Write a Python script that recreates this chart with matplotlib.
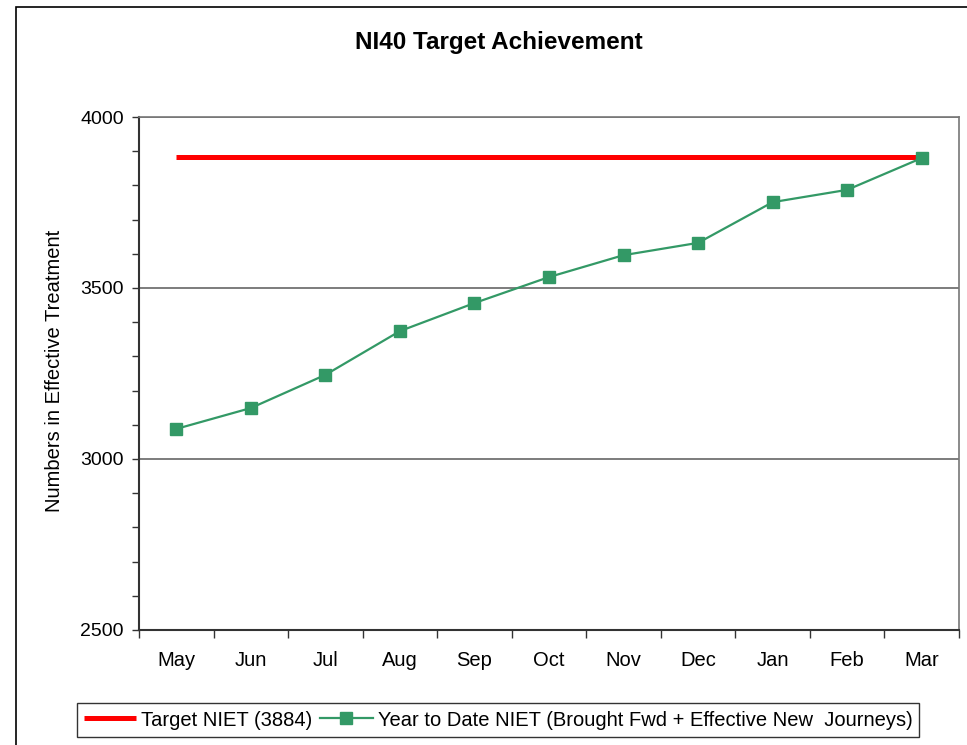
import matplotlib
matplotlib.use("Agg")
import matplotlib.pyplot as plt
import matplotlib.patches as patches
from matplotlib.ticker import MultipleLocator, FixedLocator, NullFormatter

plt.rcParams["font.family"] = ["Liberation Sans", "DejaVu Sans"]

months = ["May", "Jun", "Jul", "Aug", "Sep", "Oct", "Nov", "Dec", "Jan", "Feb", "Mar"]
target = [3884] * 11
ytd = [3088, 3149, 3246, 3374, 3456, 3532, 3596, 3632, 3751, 3787, 3880]
y_ticks = [2500, 3000, 3500, 4000]

W, H = 967, 745
fig = plt.figure(figsize=(W / 100, H / 100), dpi=100)

# outer chart frame, cut off at right and bottom like the source
fig.patches.append(patches.Rectangle((16 / W, -1), 2, 1 + (1 - 7 / H), transform=fig.transFigure,
                                     fill=False, edgecolor="black", linewidth=1.2))

ax = fig.add_axes([139 / W, 1 - 630 / H, (959 - 139) / W, (630 - 117) / H])
x = list(range(len(months)))

ax.plot(x, target, color="#FF0000", linewidth=3.6, solid_capstyle="butt",
        label="Target NIET (3884)", zorder=3)
ax.plot(x, ytd, color="#339966", linewidth=1.6, marker="s", markersize=8,
        markeredgecolor="#339966", label="Year to Date NIET (Brought Fwd + Effective New  Journeys)",
        zorder=4)

ax.set_xlim(-0.5, len(months) - 0.5)
ax.set_ylim(2500, 4000)
ax.set_yticks(y_ticks)
ax.yaxis.set_minor_locator(MultipleLocator(100))
ax.grid(axis="y", which="major", color="#666666", linewidth=1.2)
ax.set_axisbelow(True)

ax.xaxis.set_major_locator(FixedLocator([i - 0.5 for i in range(len(months) + 1)]))
ax.xaxis.set_major_formatter(NullFormatter())
ax.xaxis.set_minor_locator(FixedLocator(x))
ax.set_xticklabels(months, minor=True)
ax.tick_params(axis="x", which="major", direction="out", length=6, width=1, color="#333333")
ax.tick_params(axis="x", which="minor", length=0, pad=15, labelsize=14.5)
ax.tick_params(axis="y", which="both", direction="out", length=5, width=1, color="#333333",
               labelsize=14, pad=6)

for side in ["left", "bottom"]:
    ax.spines[side].set_color("#333333")
    ax.spines[side].set_linewidth(1.5)
for side in ["right", "top"]:
    ax.spines[side].set_color("#777777")
    ax.spines[side].set_linewidth(1.2)

fig.text(499 / W, 1 - 42 / H, "NI40 Target Achievement", ha="center", va="center",
         fontsize=17.5, fontweight="bold")
fig.text(55 / W, 1 - 371 / H, "Numbers in Effective Treatment", ha="center", va="center",
         rotation=90, fontsize=14.5)

leg = fig.legend(loc="center", bbox_to_anchor=(498 / W, 1 - 720 / H), ncol=2, fontsize=14.5,
                 frameon=True, fancybox=False, handlelength=2.6, handletextpad=0.25,
                 columnspacing=0.4, borderpad=0.35, borderaxespad=0)
leg.get_frame().set_edgecolor("black")
leg.get_frame().set_linewidth(1)

fig.savefig("out.png", dpi=100)
